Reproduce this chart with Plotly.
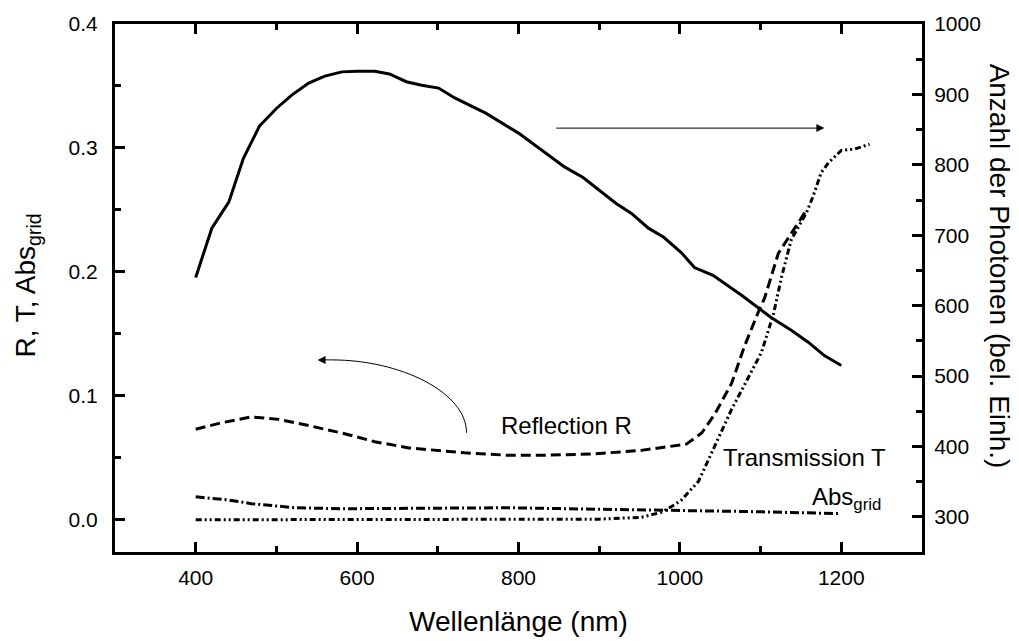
import plotly.graph_objects as go

# Photon count (right axis)
wl_photon = [400, 420, 441, 459, 479, 500, 519, 540, 560, 581, 600, 622, 640, 661, 680, 701, 721,
             760, 800, 837, 857, 880, 900, 921, 940, 961, 980, 1002, 1018, 1041, 1076, 1101, 1113,
             1138, 1159, 1179, 1200]
photons = [640, 710, 747, 809, 855, 880, 899, 916, 926, 932, 933, 933, 929, 918, 913, 909, 895,
           873, 845, 814, 797, 782, 764, 745, 731, 710, 697, 675, 654, 643, 615, 593, 583,
           565, 548, 529, 515]

# Reflection R (left axis)
wl_R = [400, 430, 469, 503, 540, 581, 622, 664, 733, 788, 828, 890, 952, 1002, 1008, 1027, 1043,
        1064, 1080, 1098, 1105, 1122, 1138, 1157]
refl = [0.073, 0.078, 0.083, 0.081, 0.076, 0.070, 0.063, 0.058, 0.054, 0.052, 0.052, 0.053, 0.056,
        0.060, 0.061, 0.070, 0.085, 0.110, 0.140, 0.169, 0.179, 0.215, 0.231, 0.250]

# Transmission T (left axis)
wl_T = [400, 500, 600, 700, 800, 900, 952, 977, 993, 1002, 1023, 1043, 1064, 1085, 1101, 1116,
        1126, 1138, 1157, 1165, 1175, 1184, 1200, 1216, 1235]
trans = [0.0, 0.0, 0.0, 0.0, 0.0, 0.0005, 0.002, 0.006, 0.012, 0.016, 0.031, 0.059, 0.089, 0.115,
         0.135, 0.166, 0.196, 0.226, 0.248, 0.261, 0.280, 0.288, 0.298, 0.299, 0.303]

# Abs_grid (left axis)
wl_A = [400, 440, 469, 500, 523, 581, 700, 788, 900, 952, 1002, 1097, 1196]
absg = [0.0185, 0.016, 0.013, 0.011, 0.0097, 0.0089, 0.0093, 0.0097, 0.0085, 0.008, 0.0073,
        0.0065, 0.005]

x_ticks = [400, 600, 800, 1000, 1200]
y_ticks = [0.0, 0.1, 0.2, 0.3, 0.4]
y2_ticks = [300, 400, 500, 600, 700, 800, 900, 1000]

FONT = "Liberation Sans, Arial, sans-serif"
BLACK = "#000000"

fig = go.Figure()
fig.add_trace(go.Scatter(x=wl_photon, y=photons, yaxis="y2", mode="lines",
                         line=dict(color=BLACK, width=3), showlegend=False))
fig.add_trace(go.Scatter(x=wl_R, y=refl, mode="lines",
                         line=dict(color=BLACK, width=3, dash="10px,5px"), showlegend=False))
fig.add_trace(go.Scatter(x=wl_T, y=trans, mode="lines",
                         line=dict(color=BLACK, width=3, dash="6px,3px,2px,3px,2px,3px"),
                         showlegend=False))
fig.add_trace(go.Scatter(x=wl_A, y=absg, mode="lines",
                         line=dict(color=BLACK, width=3, dash="9px,3px,2px,3px"),
                         showlegend=False))

axis_common = dict(showgrid=False, zeroline=False, ticks="inside", ticklen=10, tickwidth=3,
                   tickcolor=BLACK, linecolor=BLACK, linewidth=3, showline=True,
                   tickfont=dict(family=FONT, size=21, color=BLACK))

fig.update_layout(
    width=1019, height=641,
    margin=dict(l=115, r=97, t=24, b=89),
    plot_bgcolor="white", paper_bgcolor="white",
    xaxis=dict(range=[300, 1300], tickvals=x_ticks, mirror="ticks",
               minor=dict(dtick=100, ticks="inside", ticklen=6, tickwidth=3, tickcolor=BLACK),
               ticklabelstandoff=5, **axis_common),
    yaxis=dict(range=[-0.026, 0.4], tickvals=y_ticks, tickformat=".1f",
               minor=dict(dtick=0.05, ticks="inside", ticklen=6, tickwidth=3, tickcolor=BLACK),
               ticklabelstandoff=10, **axis_common),
    yaxis2=dict(range=[250, 1000], tickvals=y2_ticks, overlaying="y", side="right",
                minor=dict(dtick=50, ticks="inside", ticklen=6, tickwidth=3, tickcolor=BLACK),
                ticklabelstandoff=5, **axis_common),
)

ann_font = dict(family=FONT, size=24, color=BLACK)
title_font = dict(family=FONT, size=28, color=BLACK)

# Text labels
fig.add_annotation(x=859, y=0.0758, xref="x", yref="y", text="Reflection R",
                   showarrow=False, font=ann_font)
fig.add_annotation(x=1154, y=0.050, xref="x", yref="y", text="Transmission T",
                   showarrow=False, font=ann_font)
fig.add_annotation(x=1161, y=0.017, xref="x", yref="y", text="Abs<sub>grid</sub>",
                   showarrow=False, font=ann_font, xanchor="left")

# Axis titles
fig.add_annotation(x=0.5, y=-0.132, xref="paper", yref="paper", text="Wellenlänge (nm)",
                   showarrow=False, font=title_font, yanchor="middle")
fig.add_annotation(x=-0.133, y=0.505, xref="paper", yref="paper", text="R, T, Abs<sub>grid</sub>",
                   showarrow=False, font=title_font, textangle=-90)
fig.add_annotation(x=1.118, y=0.541, xref="paper", yref="paper",
                   text="Anzahl der Photonen (bel. Einh.)",
                   showarrow=False, font=title_font, textangle=90)

# Straight arrow pointing to right axis
fig.add_annotation(x=1179, y=0.316, ax=845, ay=0.316, xref="x", yref="y", axref="x", ayref="y",
                   text="", showarrow=True, arrowhead=2, arrowsize=1.6, arrowwidth=1,
                   arrowcolor=BLACK)

# Curved arrow pointing to left axis
fig.add_shape(type="path", xref="x", yref="y",
              path="M 735.6,0.0702 C 735.6,0.1027 654.1,0.129 568.4,0.129",
              line=dict(color=BLACK, width=1))
fig.add_annotation(x=551, y=0.129, ax=570, ay=0.129, xref="x", yref="y", axref="x", ayref="y",
                   text="", showarrow=True, arrowhead=2, arrowsize=1.6, arrowwidth=1,
                   arrowcolor=BLACK)

fig.write_html("out.html")
